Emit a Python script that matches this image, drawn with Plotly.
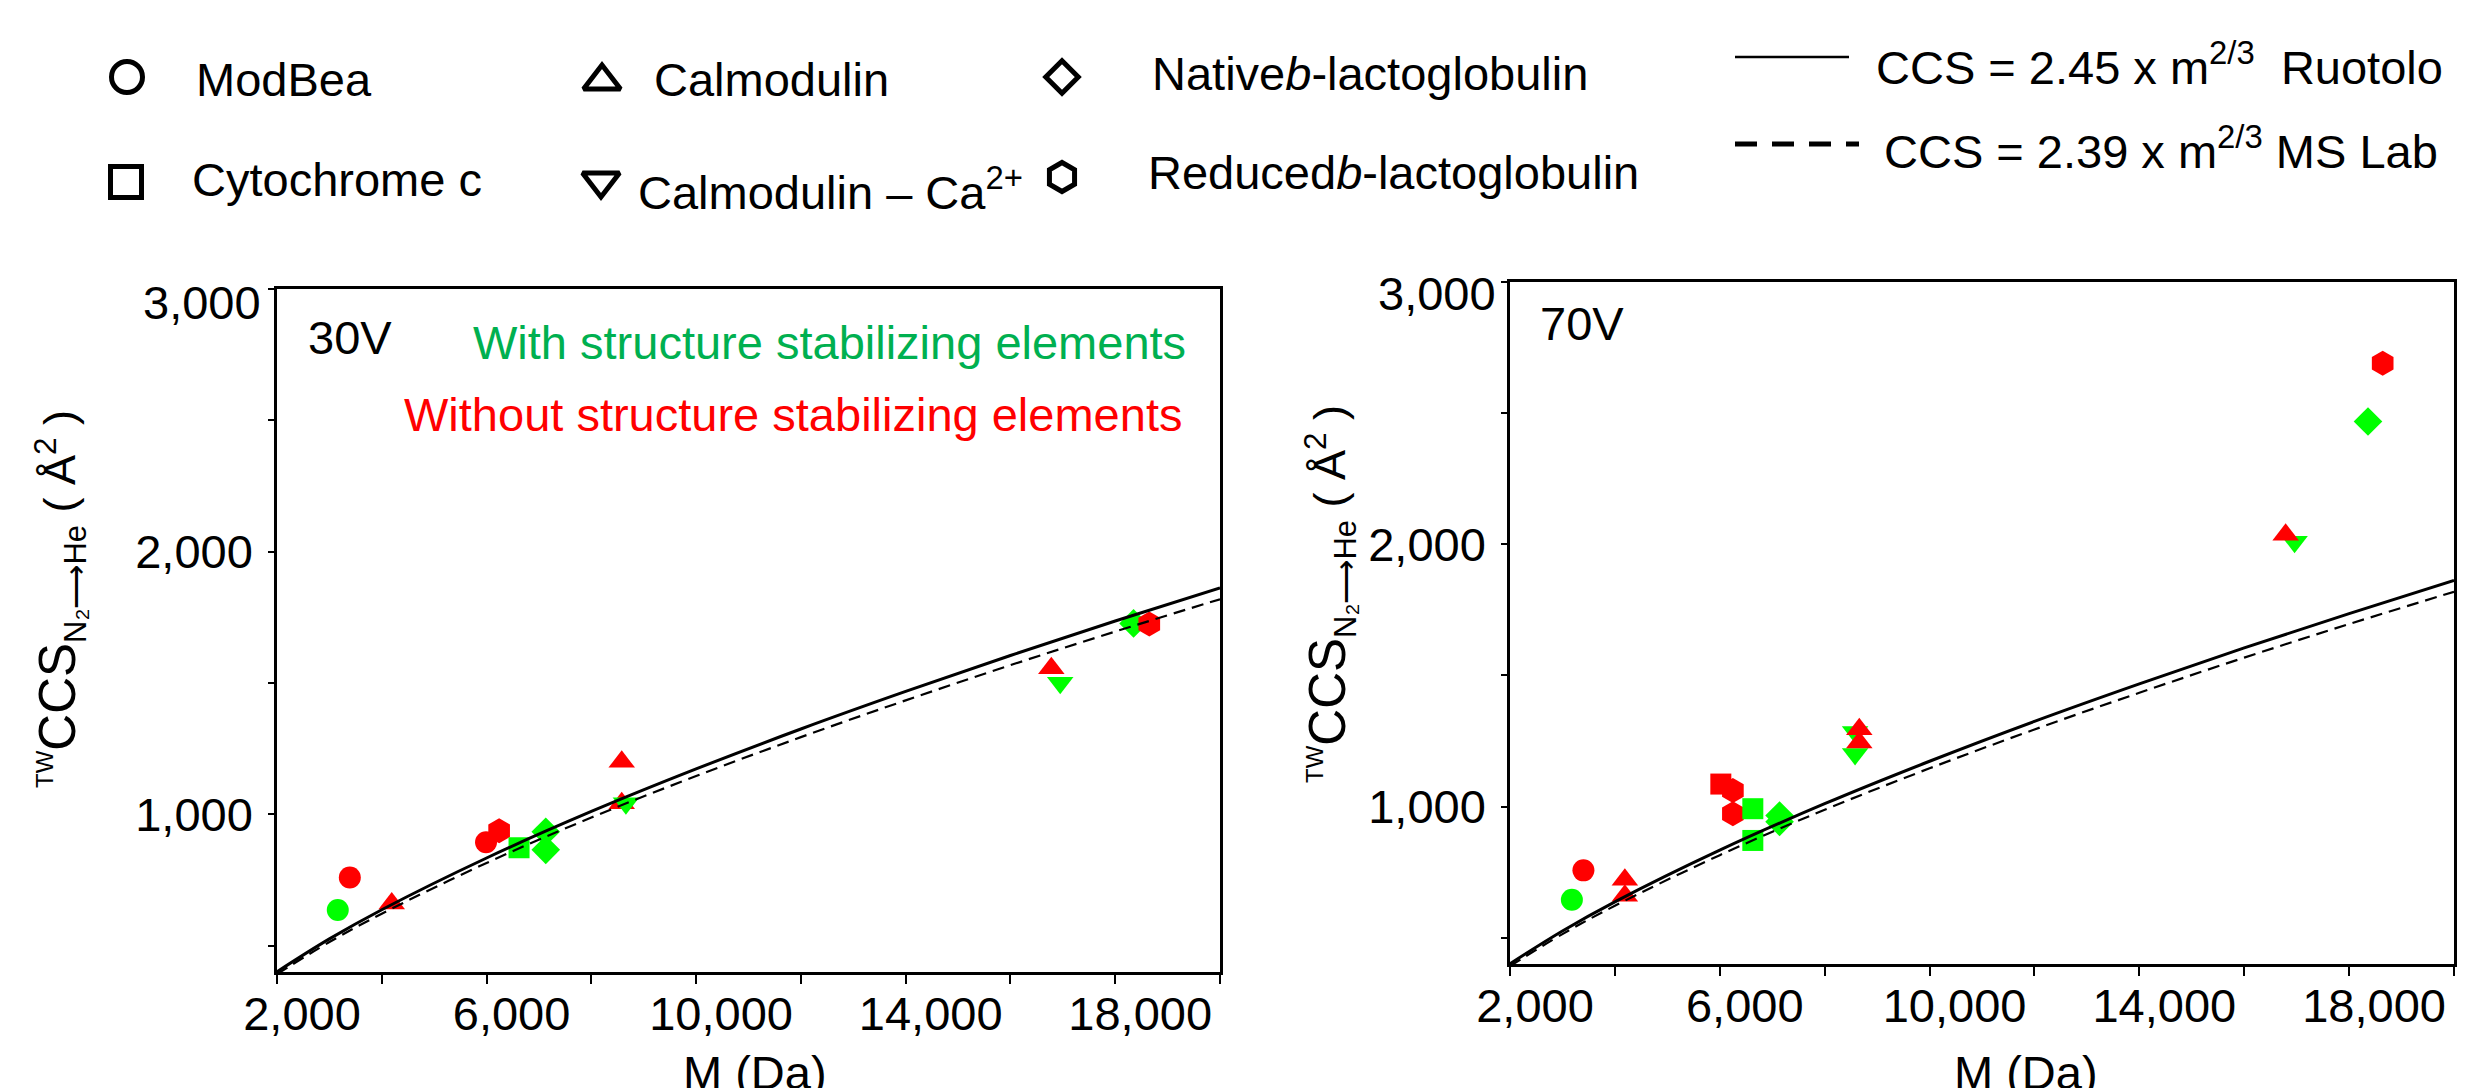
import plotly.graph_objects as go

W, H = 2468, 1088
FONT = "Liberation Sans, Arial, sans-serif"
RED = "#FF0000"
GREEN = "#00FF00"
TEXT_GREEN = "#00B050"
TEXT_RED = "#FF0000"

# ---------------- data ----------------
X_TICKS = [2000, 4000, 6000, 8000, 10000, 12000, 14000, 16000, 18000, 20000]
X_TICKTEXT = ["2,000", "", "6,000", "", "10,000", "", "14,000", "", "18,000", ""]
Y_TICKS = [500, 1000, 1500, 2000, 2500, 3000]
Y_TICKTEXT = ["", "1,000", "", "2,000", "", ""]
Y_TOP_LABEL = "3,000"   # drawn just below the top tick, as in the reference

# reference curves at these masses
CURVE_M = [2000, 3000, 4000, 6000, 8000, 10000, 12000, 14000, 16000, 18000, 20000]
RUOTOLO_CCS = [401, 526, 637, 834, 1011, 1173, 1325, 1468, 1605, 1736, 1862]
MSLAB_CCS = [392, 514, 622, 815, 988, 1146, 1294, 1434, 1568, 1696, 1819]

# 30 V panel
V30_MODBEA_G_M = [3160]
V30_MODBEA_G_CCS = [636]
V30_MODBEA_R_M = [3390, 5990]
V30_MODBEA_R_CCS = [760, 894]
V30_CALM_R_M = [4190, 8580, 8580, 16780]
V30_CALM_R_CCS = [661, 1200, 1042, 1556]
V30_CALMCA_G_M = [8660, 16950]
V30_CALMCA_G_CCS = [1042, 1501]
V30_CYTC_G_M = [6620]
V30_CYTC_G_CCS = [873]
V30_NATIVE_G_M = [7130, 7130, 18350]
V30_NATIVE_G_CCS = [934, 865, 1727]
V30_REDUCED_R_M = [6240, 18650]
V30_REDUCED_R_CCS = [938, 1725]

# 70 V panel
V70_MODBEA_G_M = [3180]
V70_MODBEA_G_CCS = [645]
V70_MODBEA_R_M = [3400]
V70_MODBEA_R_CCS = [757]
V70_CALM_R_M = [4190, 4190, 8660, 8660, 16790]
V70_CALM_R_CCS = [721, 660, 1295, 1244, 2036]
V70_CALMCA_G_M = [8580, 8580, 16960]
V70_CALMCA_G_CCS = [1284, 1201, 2010]
V70_CYTC_R_M = [6020]
V70_CYTC_R_CCS = [1086]
V70_CYTC_G_M = [6630, 6630]
V70_CYTC_G_CCS = [992, 871]
V70_NATIVE_G_M = [7140, 7140, 18360]
V70_NATIVE_G_CCS = [966, 942, 2468]
V70_REDUCED_R_M = [6250, 6250, 18640]
V70_REDUCED_R_CCS = [1061, 973, 2690]

LEGEND_LABELS = ["ModBea", "Cytochrome c", "Calmodulin", "Calmodulin \u2013 Ca<sup>2+</sup>",
                 "Native<i>b</i>-lactoglobulin", "Reduced<i>b</i>-lactoglobulin"]
LEGEND_SYMBOLS = ["circle-open", "square-open", "triangle-up-open", "triangle-down-open",
                  "diamond-open", "hexagon-open"]
LINE_LABELS = ["CCS = 2.45 x m<sup>2/3</sup>\u00a0\u00a0Ruotolo", "CCS = 2.39 x m<sup>2/3</sup>\u00a0MS Lab"]

# ---------------- layout helpers (pixel -> paper) ----------------
def fx(p):
    return p / W

def fy(p):
    return 1 - p / H

SIZES = {"circle": 22, "square": 21, "diamond": 22, "hexagon": 25,
         "triangle-up": 23, "triangle-down": 23}

fig = go.Figure()

def add_pts(m, ccs, symbol, color, xa, ya):
    fig.add_trace(go.Scatter(
        x=m, y=ccs, mode="markers", xaxis=xa, yaxis=ya, showlegend=False,
        marker=dict(symbol=symbol, size=SIZES[symbol], color=color, line=dict(width=0)),
    ))

def add_curves(xa, ya):
    fig.add_trace(go.Scatter(x=CURVE_M, y=MSLAB_CCS, mode="lines", xaxis=xa, yaxis=ya,
                             showlegend=False, line=dict(color="black", width=2.2, dash="12px,7px", shape="spline")))
    fig.add_trace(go.Scatter(x=CURVE_M, y=RUOTOLO_CCS, mode="lines", xaxis=xa, yaxis=ya,
                             showlegend=False, line=dict(color="black", width=3, shape="spline")))

# 30 V
add_pts(V30_NATIVE_G_M, V30_NATIVE_G_CCS, "diamond", GREEN, "x", "y")
add_pts(V30_REDUCED_R_M, V30_REDUCED_R_CCS, "hexagon", RED, "x", "y")
add_pts(V30_MODBEA_G_M, V30_MODBEA_G_CCS, "circle", GREEN, "x", "y")
add_pts(V30_MODBEA_R_M, V30_MODBEA_R_CCS, "circle", RED, "x", "y")
add_pts(V30_CYTC_G_M, V30_CYTC_G_CCS, "square", GREEN, "x", "y")
add_pts(V30_CALM_R_M, V30_CALM_R_CCS, "triangle-up", RED, "x", "y")
add_pts(V30_CALMCA_G_M, V30_CALMCA_G_CCS, "triangle-down", GREEN, "x", "y")
add_curves("x", "y")

# 70 V
add_pts(V70_NATIVE_G_M, V70_NATIVE_G_CCS, "diamond", GREEN, "x2", "y2")
add_pts(V70_REDUCED_R_M, V70_REDUCED_R_CCS, "hexagon", RED, "x2", "y2")
add_pts(V70_CYTC_R_M, V70_CYTC_R_CCS, "square", RED, "x2", "y2")
add_pts(V70_CYTC_G_M, V70_CYTC_G_CCS, "square", GREEN, "x2", "y2")
add_pts(V70_MODBEA_G_M, V70_MODBEA_G_CCS, "circle", GREEN, "x2", "y2")
add_pts(V70_MODBEA_R_M, V70_MODBEA_R_CCS, "circle", RED, "x2", "y2")
add_pts(V70_CALMCA_G_M, V70_CALMCA_G_CCS, "triangle-down", GREEN, "x2", "y2")
add_pts(V70_CALM_R_M, V70_CALM_R_CCS, "triangle-up", RED, "x2", "y2")
add_curves("x2", "y2")

# ---------------- hand-made legend (glyphs on a hidden pixel axis) ----------------
LEG_GLYPH_X = [127, 126, 602, 601, 1062, 1062]
LEG_GLYPH_Y = [77, 182, 81, 181, 77, 177]
LEG_GLYPH_SIZE = [31, 31, 32, 32, 25, 29]
for gx, gy, sym, sz in zip(LEG_GLYPH_X, LEG_GLYPH_Y, LEGEND_SYMBOLS, LEG_GLYPH_SIZE):
    fig.add_trace(go.Scatter(x=[gx], y=[gy], mode="markers", xaxis="x3", yaxis="y3", showlegend=False,
                             marker=dict(symbol=sym, size=sz, color="black", line=dict(width=5, color="black"))))

fig.add_shape(type="line", xref="paper", yref="paper", x0=fx(1735), x1=fx(1849), y0=fy(57), y1=fy(57),
              line=dict(color="black", width=2.5))
fig.add_shape(type="line", xref="paper", yref="paper", x0=fx(1735), x1=fx(1859), y0=fy(144), y1=fy(144),
              line=dict(color="black", width=5, dash="22px,15px"))

LEG_TEXT_X = [194, 190, 652, 636, 1150, 1146]
LEG_TEXT_Y = [80, 180, 80, 189, 73, 172]
annotations = []
for tx, ty, lab in zip(LEG_TEXT_X, LEG_TEXT_Y, LEGEND_LABELS):
    annotations.append(dict(x=fx(tx), y=fy(ty), xref="paper", yref="paper", text=lab, showarrow=False,
                            xanchor="left", yanchor="middle", font=dict(size=47, color="black", family=FONT)))
for tx, ty, lab in zip([1874, 1882], [64, 148], LINE_LABELS):
    annotations.append(dict(x=fx(tx), y=fy(ty), xref="paper", yref="paper", text=lab, showarrow=False,
                            xanchor="left", yanchor="middle", font=dict(size=47, color="black", family=FONT)))

# in-plot labels
annotations += [
    dict(x=fx(306), y=fy(337), xref="paper", yref="paper", text="30V", showarrow=False,
         xanchor="left", yanchor="middle", font=dict(size=47, color="black", family=FONT)),
    dict(x=fx(1188), y=fy(342), xref="paper", yref="paper", text="With structure stabilizing elements",
         showarrow=False, xanchor="right", yanchor="middle", font=dict(size=47, color=TEXT_GREEN, family=FONT)),
    dict(x=fx(1184), y=fy(414), xref="paper", yref="paper", text="Without structure stabilizing elements",
         showarrow=False, xanchor="right", yanchor="middle", font=dict(size=47, color=TEXT_RED, family=FONT)),
    dict(x=fx(1538), y=fy(323), xref="paper", yref="paper", text="70V", showarrow=False,
         xanchor="left", yanchor="middle", font=dict(size=47, color="black", family=FONT)),
]

# top y tick labels (sit slightly below their tick in the reference)
for tx, ty in [(263, 302), (1498, 293)]:
    annotations.append(dict(x=fx(tx), y=fy(ty), xref="paper", yref="paper", text=Y_TOP_LABEL, showarrow=False,
                            xanchor="right", yanchor="middle", font=dict(size=47, color="black", family=FONT)))

YTITLE = ("<sup><span style='font-size:24px'>TW</span></sup>CCS"
          "<sub><span style='font-size:31px'>N\u2082\u27f6He</span></sub>"
          "<span style='font-size:45px'> ( \u00c5<sup>2</sup> )</span>")
for tx, ty in [(60, 599), (1330, 594)]:
    annotations.append(dict(x=fx(tx), y=fy(ty), xref="paper", yref="paper", text=YTITLE, showarrow=False,
                            textangle=-90, xanchor="center", yanchor="middle",
                            font=dict(size=51, color="black", family=FONT)))
for tx in [755, 2026]:
    annotations.append(dict(x=fx(tx), y=fy(1072), xref="paper", yref="paper", text="M (Da)", showarrow=False,
                            xanchor="center", yanchor="middle", font=dict(size=47, color="black", family=FONT)))

def xaxis(domain, anchor):
    return dict(domain=domain, anchor=anchor, range=[2000, 20000], tickmode="array", tickvals=X_TICKS,
                ticktext=X_TICKTEXT, ticks="outside", ticklen=9, tickwidth=2, tickcolor="black",
                showline=True, linewidth=2.5, linecolor="black", mirror=True, showgrid=False, zeroline=False,
                tickfont=dict(size=47, color="black", family=FONT), ticklabelshift=25, ticklabelstandoff=-10,
                automargin=False, fixedrange=True)

def yaxis(domain, anchor):
    return dict(domain=domain, anchor=anchor, range=[400, 3000], tickmode="array", tickvals=Y_TICKS,
                ticktext=Y_TICKTEXT, ticks="outside", ticklen=6, tickwidth=2, tickcolor="black",
                showline=True, linewidth=2.5, linecolor="black", mirror=True, showgrid=False, zeroline=False,
                tickfont=dict(size=47, color="black", family=FONT), ticklabelstandoff=6,
                automargin=False, fixedrange=True)

fig.update_layout(
    width=W, height=H, autosize=False,
    margin=dict(l=0, r=0, t=0, b=0, pad=0, autoexpand=False),
    paper_bgcolor="white", plot_bgcolor="white",
    font=dict(family=FONT, size=47, color="black"),
    showlegend=False,
    xaxis=xaxis([fx(277), fx(1220)], "y"),
    yaxis=yaxis([fy(972), fy(289)], "x"),
    xaxis2=xaxis([fx(1510), fx(2454)], "y2"),
    yaxis2=yaxis([fy(964), fy(282)], "x2"),
    xaxis3=dict(domain=[0, 1], anchor="y3", range=[0, W], visible=False, fixedrange=True, automargin=False),
    yaxis3=dict(domain=[fy(240), 1], anchor="x3", range=[240, 0], visible=False, fixedrange=True, automargin=False),
    annotations=annotations,
)

fig.write_html("out.html")
